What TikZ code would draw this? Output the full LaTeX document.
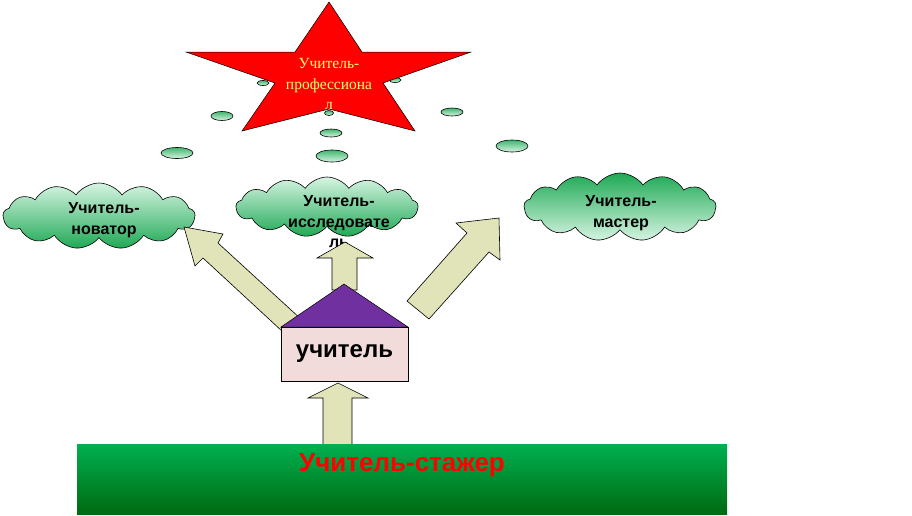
\documentclass[tikz,border=0pt]{standalone}
\usepackage{fontspec}
\setmainfont{Liberation Sans}
\newfontfamily\serifru{Liberation Serif}
\usetikzlibrary{shapes.symbols}
\definecolor{arrowfill}{HTML}{E1E3B9}
\definecolor{roofpurple}{HTML}{7030A0}
\definecolor{housepink}{HTML}{F2DCDB}
\definecolor{barTop}{HTML}{00B050}
\definecolor{barBot}{HTML}{006A10}
\definecolor{cloudDark}{HTML}{1FA955}
\definecolor{cloudLight}{HTML}{D6F4E2}
\definecolor{starText}{HTML}{FFFF70}
\tikzset{
  cloudbox/.style={cloud, cloud puffs=13, cloud puff arc=110, draw=black, line width=0.6pt, inner sep=0pt},
  cloudtext/.style={font=\bfseries\fontsize{16}{20.5}\selectfont, align=center, text=black},
  bubble/.style={draw=black, line width=0.6pt, top color=cloudDark!85, bottom color=cloudLight},
  blockarrow/.style={fill=arrowfill, draw=black, line width=0.6pt, line join=miter},
}
\begin{document}
\begin{tikzpicture}[x=1pt,y=-1pt]
\useasboundingbox (0,0) rectangle (912,515);
\fill[white] (0,0) rectangle (912,515);

% bubbles
\draw[bubble] (222,116) ellipse [x radius=11pt, y radius=4.5pt];
\draw[bubble] (263,83) ellipse [x radius=6pt, y radius=2.5pt];
\draw[bubble] (395,80) ellipse [x radius=6pt, y radius=2.5pt];
\draw[bubble] (329,113) ellipse [x radius=4.5pt, y radius=2.5pt];
\draw[bubble] (331,133) ellipse [x radius=11pt, y radius=4pt];
\draw[bubble] (177,153) ellipse [x radius=16pt, y radius=5.5pt];
\draw[bubble] (332,156) ellipse [x radius=16pt, y radius=6pt];
\draw[bubble] (452,112) ellipse [x radius=11pt, y radius=4pt];
\draw[bubble] (512,146) ellipse [x radius=16pt, y radius=6pt];

% star
\filldraw[fill=red, draw=black, line width=0.5pt, line join=miter]
  (329,2) -- (295,52) -- (186,52) -- (275,83) -- (242,131) -- (329,109)
  -- (415,131) -- (383,83) -- (471,52) -- (362,52) -- cycle;
\node[font=\serifru\fontsize{15.5}{20.5}\selectfont, text=starText, align=center] (star) at (329,84)
  {Учитель-\\профессиона\\л};

% clouds
\node[cloudbox, top color=cloudLight, bottom color=cloudDark,
  minimum width=192pt, minimum height=66pt] (cl) at (99,216) {};
\node[cloudtext] (clt) at (104,220) {Учитель-\\новатор};

\node[cloudbox, top color=cloudLight, bottom color=cloudDark,
  minimum width=182pt, minimum height=60pt] (cm) at (327,207) {};
\node[cloudtext] (cmt) at (339,222) {Учитель-\\исследовате\\ль};

\node[cloudbox, top color=cloudDark, bottom color=cloudLight,
  minimum width=192pt, minimum height=68pt] (cr) at (620,207) {};
\node[cloudtext] (crt) at (621,213) {Учитель-\\мастер};

% arrows
\filldraw[blockarrow] (184,227) -- (223,234) -- (218,243) -- (302,320)
  -- (283,332) -- (203,258) -- (195,266) -- cycle;
\filldraw[blockarrow] (499,218) -- (500,260) -- (489,252) -- (429,319)
  -- (407,301) -- (467,233) -- (456,223) -- cycle;
\filldraw[blockarrow] (332,290) -- (332,258) -- (317,258) -- (345,242)
  -- (373,258) -- (357,258) -- (357,290) -- cycle;
\filldraw[blockarrow] (323,447) -- (323,398) -- (308,398) -- (338,383)
  -- (368,398) -- (352,398) -- (352,447) -- cycle;

% house
\filldraw[fill=roofpurple, draw=black, line width=0.5pt] (281,327) -- (344,284) -- (408,327) -- cycle;
\node[draw=black, line width=0.8pt, fill=housepink, minimum width=127pt, minimum height=54pt,
  inner sep=0pt, font=\bfseries\fontsize{24}{28}\selectfont, text=black] (house) at (344.5,354) {учитель};

% ground bar
\node[minimum width=650pt, minimum height=70pt, inner sep=0pt, top color=barTop, bottom color=barBot] (bar) at (402,479) {};
\node[font=\bfseries\fontsize{26}{30}\selectfont, text=red] (bart) at (402,465) {Учитель-стажер};
\end{tikzpicture}
\end{document}
